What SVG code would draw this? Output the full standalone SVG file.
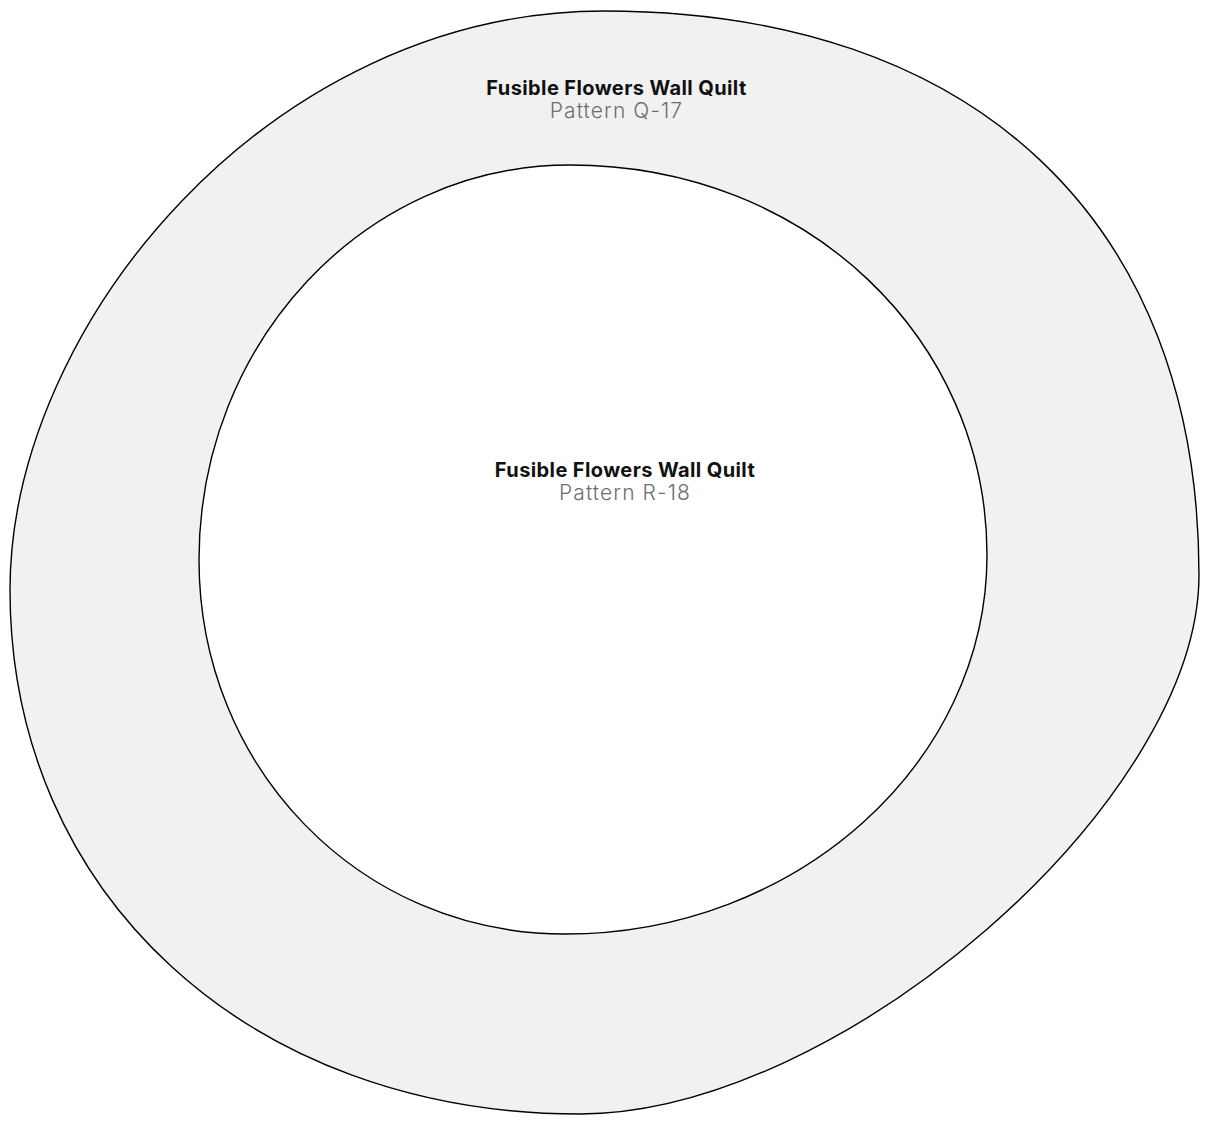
<svg xmlns="http://www.w3.org/2000/svg" width="1209" height="1123" viewBox="0 0 1209 1123">
<style>
.shape{stroke:#000;stroke-width:1.4}
.outer{fill:#f1f1f1}
.inner{fill:#fff}
.title{font-family:Inter,"Liberation Sans",sans-serif;font-weight:700;font-size:20px;fill:#111;text-anchor:middle;letter-spacing:0.4px}
.sub{font-family:Inter,"Liberation Sans",sans-serif;font-weight:300;font-size:21px;fill:#6e6e6e;text-anchor:middle;letter-spacing:1.1px}
</style>
<rect width="1209" height="1123" fill="#fff"/>
<g id="node-q17">
<path class="shape outer" d="M604,11 C973,11 1199,220 1199,575 C1199,801 840,1114 580,1114 C249,1114 10,894 10,590 C10,324 271,11 604,11 Z"/>
<text class="title" x="616.5" y="95">Fusible Flowers Wall Quilt</text>
<text class="sub" x="616.5" y="118">Pattern Q-17</text>
</g>
<g id="node-r18">
<path class="shape inner" d="M570,165 C808,165 987,340 987,555 C987,763 797,934 565,934 C359,934 199,767 199,560 C199,342 365,165 570,165 Z"/>
<text class="title" x="625" y="477">Fusible Flowers Wall Quilt</text>
<text class="sub" x="625" y="500">Pattern R-18</text>
</g>
<g id="connectors"></g>
</svg>
